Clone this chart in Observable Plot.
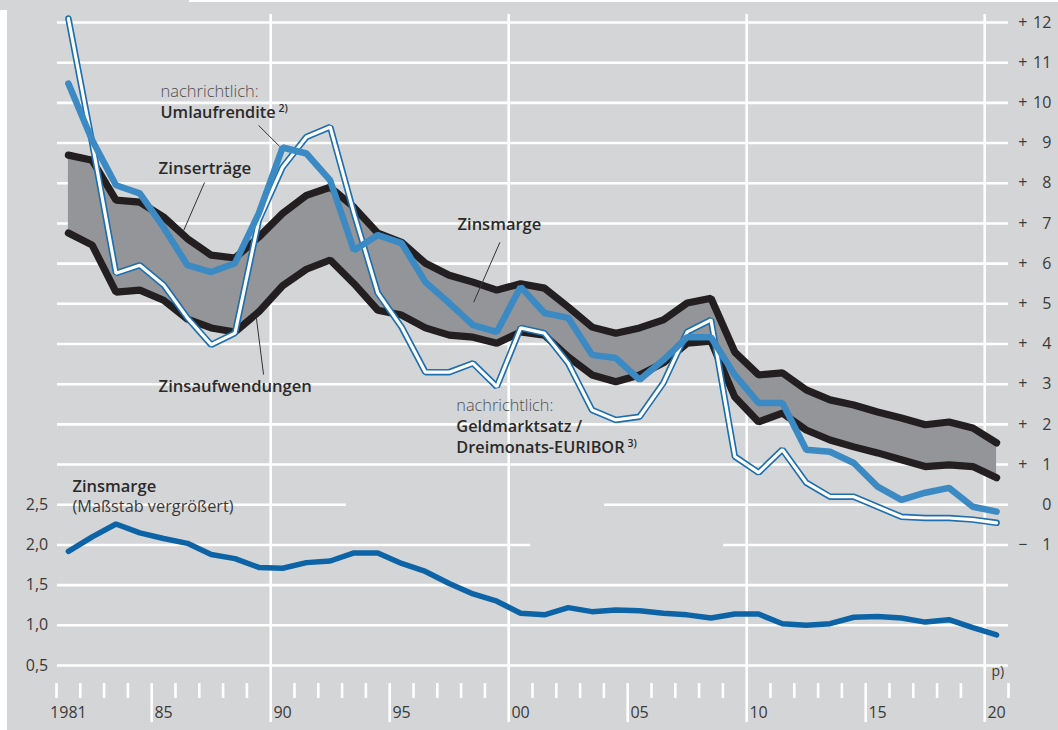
<!DOCTYPE html>
<html><head><meta charset="utf-8">
<script src="https://cdn.jsdelivr.net/npm/d3@7"></script>
<script src="https://cdn.jsdelivr.net/npm/@observablehq/plot@0.6"></script>
<style>
body{margin:0;background:#fff;}
#wrap{position:relative;width:1058px;height:730px;overflow:hidden}
#bg{position:absolute;left:7px;top:2px;right:0;bottom:0;background:#d4d5d7}
#chart{position:absolute;left:0;top:0}
</style></head><body><div id="wrap"><div id="bg"></div><div id="chart"></div></div>
<script>
// ---- data (Prozent) ----
const years = d3.range(1981, 2021);
const zinsertraege = [8.70, 8.57, 7.58, 7.53, 7.16, 6.62, 6.21, 6.14, 6.66, 7.25,
  7.70, 7.90, 7.40, 6.76, 6.53, 6.01, 5.71, 5.54, 5.34, 5.50,
  5.39, 4.92, 4.42, 4.27, 4.40, 4.60, 5.02, 5.14, 3.80, 3.23,
  3.28, 2.86, 2.61, 2.48, 2.31, 2.16, 1.99, 2.06, 1.91, 1.54];
const zinsaufwendungen = [6.76, 6.46, 5.29, 5.34, 5.09, 4.62, 4.40, 4.30, 4.80, 5.45,
  5.86, 6.09, 5.50, 4.84, 4.72, 4.40, 4.22, 4.17, 4.02, 4.30,
  4.22, 3.68, 3.23, 3.06, 3.23, 3.53, 4.02, 4.07, 2.68, 2.06,
  2.28, 1.86, 1.61, 1.44, 1.29, 1.12, 0.95, 0.99, 0.95, 0.67];
const umlaufrendite = [10.48, 9.07, 7.95, 7.75, 6.90, 5.96, 5.79, 6.01, 7.25, 8.89,
  8.74, 8.07, 6.33, 6.71, 6.51, 5.54, 5.02, 4.47, 4.30, 5.42,
  4.77, 4.65, 3.73, 3.65, 3.11, 3.60, 4.17, 4.17, 3.23, 2.53,
  2.53, 1.37, 1.32, 1.04, 0.45, 0.12, 0.30, 0.42, -0.05, -0.17];
const geldmarktsatz = [12.1, 9.00, 5.76, 5.96, 5.47, 4.65, 3.98, 4.27, 7.08, 8.40,
  9.15, 9.40, 7.25, 5.27, 4.42, 3.30, 3.30, 3.52, 2.94, 4.40,
  4.27, 3.52, 2.36, 2.11, 2.19, 3.03, 4.30, 4.60, 1.20, 0.80,
  1.37, 0.55, 0.20, 0.20, -0.05, -0.30, -0.33, -0.33, -0.37, -0.45];
const zinsmarge = [1.92, 2.10, 2.26, 2.15, 2.08, 2.02, 1.88, 1.83, 1.72, 1.71,
  1.78, 1.80, 1.90, 1.90, 1.77, 1.67, 1.52, 1.39, 1.30, 1.15,
  1.13, 1.22, 1.17, 1.19, 1.18, 1.15, 1.13, 1.09, 1.14, 1.14,
  1.02, 1.00, 1.02, 1.10, 1.11, 1.09, 1.04, 1.07, 0.97, 0.88];

// tick labels
const rightTicks = [12, 11, 10, 9, 8, 7, 6, 5, 4, 3, 2, 1, 0, -1];
const leftTicks = [2.5, 2.0, 1.5, 1.0, 0.5];
const xLabelYears = [1981, 1985, 1990, 1995, 2000, 2005, 2010, 2015, 2020];
const xLabelTexts = ["1981", "85", "90", "95", "00", "05", "10", "15", "20"];

// ---- derived tables ----
const table = years.map((year, i) => ({
  year, ert: zinsertraege[i], auf: zinsaufwendungen[i],
  uml: umlaufrendite[i], geld: geldmarktsatz[i], marge: zinsmarge[i]
}));
const toTop = (m) => (m - 2.5) * 2;   // Maßstab vergrößert: 0,5 Pp = 1 Pp
const boundaries = d3.range(1980.5, 2021, 1);
const decade = [1989.5, 1999.5, 2009.5, 2019.5];
const half = [1984.5, 1994.5, 2004.5, 2014.5];
const shortTicks = boundaries.filter(b => !decade.includes(b) && !half.includes(b));
const gridFull = [12, 11, 10, 9, 8, 7, 6, 5, 4, 3, 2, 1, -2, -3, -4];
const gridSegs = [
  {v: 0, a: 1980.54, b: 1992.68}, {v: 0, a: 2003.53, b: 2020.5},
  {v: -1, a: 1980.54, b: 2000.42}, {v: -1, a: 2008.53, b: 2020.5}
];
const xLabels = xLabelYears.map((y, i) => ({year: y, text: xLabelTexts[i]}));
const fmtR = v => v === 0 ? "0" : String(Math.abs(v));
const signR = v => v > 0 ? "+" : v < 0 ? "\u2212" : "";

const BG = "#d4d5d7";
const FONT = "Open Sans";
const ink = "#2b2a2a";

// annotations: [text, x(year), y(value), weight, size, colour, class]
const annotations = [
  ["nachrichtlich:", 1984.87, 10.28, 300, 16.5, "#4f4f4f", "lbl"],
  ["Umlaufrendite", 1984.87, 9.76, 600, 16.3, ink, "lbl-sup2"],
  ["Zinserträge", 1984.79, 8.37, 600, 16.8, ink, "lbl"],
  ["Zinsaufwendungen", 1984.79, 2.95, 600, 16.6, ink, "lbl"],
  ["Zinsmarge", 1997.35, 6.97, 600, 16.5, ink, "lbl"],
  ["nachrichtlich:", 1997.3, 2.46, 300, 16.3, "#4f4f4f", "lbl"],
  ["Geldmarktsatz /", 1997.3, 1.95, 600, 16.3, ink, "lbl"],
  ["Dreimonats-EURIBOR", 1997.3, 1.42, 600, 16.3, ink, "lbl-sup3"],
  ["Zinsmarge", 1981.17, 0.45, 600, 16.5, ink, "lbl"],
  ["(Maßstab vergrößert)", 1981.17, -0.04, 400, 16.3, "#3a3a3a", "lbl"]
];
const textMarks = annotations.map(([t, x, y, w, s, c, cls]) =>
  Plot.text([t], {x, y, text: d => d, textAnchor: "start", fontSize: s, fontWeight: w,
    fill: c, className: cls}));

const plot = Plot.plot({
  width: 1058, height: 730, margin: 0,
  style: {background: "transparent", overflow: "visible", fontFamily: FONT},
  x: {type: "linear", domain: [1980.5, 2020.5], range: [56, 1008], axis: null},
  y: {type: "linear", domain: [-4, 12], range: [665, 22], axis: null},
  marks: [
    // grid
    Plot.ruleY(gridFull, {y: d => d, x1: 1980.54, x2: 2020.5, stroke: "#fff", strokeWidth: 2.6}),
    Plot.ruleY(gridSegs, {y: "v", x1: "a", x2: "b", stroke: "#fff", strokeWidth: 2.6}),
    Plot.ruleX(decade, {x: d => d, y1: 12.2, y2: -5.42, stroke: "#fff", strokeWidth: 2.6}),
    Plot.ruleX(half, {x: d => d, y1: -4.45, y2: -5.42, stroke: "#fff", strokeWidth: 2.6}),
    Plot.ruleX(shortTicks, {x: d => d, y1: -4.45, y2: -4.82, stroke: "#fff", strokeWidth: 2.6}),

    // annotation labels (a background box is added behind each, cutting the grid)
    ...textMarks,
    Plot.text(["p)"], {x: 2020.05, y: -4.15, text: d => d, textAnchor: "middle", fontSize: 14, fill: "#3a3a3a", className: "lbl-p"}),

    // band + lines
    Plot.areaY(table, {x: "year", y1: "auf", y2: "ert", fill: "#939598"}),
    Plot.line(table, {x: "year", y: "ert", stroke: "#231f20", strokeWidth: 7.2, strokeLinejoin: "miter"}),
    Plot.line(table, {x: "year", y: "auf", stroke: "#231f20", strokeWidth: 7.2, strokeLinejoin: "miter"}),
    Plot.line(table, {x: "year", y: "geld", stroke: "#1d6fae", strokeWidth: 6.5, strokeLinejoin: "miter"}),
    Plot.line(table, {x: "year", y: "geld", stroke: "#ffffff", strokeWidth: 3.2, strokeLinejoin: "miter"}),
    Plot.line(table, {x: "year", y: "uml", stroke: "#3b8ac4", strokeWidth: 6.5, strokeLinejoin: "miter"}),
    Plot.line(table, {x: "year", y: d => toTop(d.marge), stroke: "#0c64a7", strokeWidth: 5.5, strokeLinejoin: "miter"}),

    // leader lines
    Plot.link([0], {x1: 1988.99, y1: 9.44, x2: 1989.87, y2: 8.92, stroke: "#333", strokeWidth: 1}),
    Plot.link([0], {x1: 1986.72, y1: 8.02, x2: 1985.84, y2: 6.82, stroke: "#333", strokeWidth: 1}),
    Plot.link([0], {x1: 1989.2, y1: 3.24, x2: 1988.9, y2: 4.64, stroke: "#333", strokeWidth: 1}),
    Plot.link([0], {x1: 1999.13, y1: 6.53, x2: 1998.03, y2: 5.04, stroke: "#333", strokeWidth: 1}),

    // right axis
    Plot.text(rightTicks, {x: 2021.1, y: d => d, text: signR, textAnchor: "middle", fontSize: 16, fill: "#3a3a3a"}),
    Plot.text(rightTicks, {x: 2022.3, y: d => d, text: fmtR, textAnchor: "end", fontSize: 16, fill: "#3a3a3a"}),
    // left axis (vergrößerter Maßstab)
    Plot.text(leftTicks, {x: 1980.15, y: d => toTop(d), text: d => d.toFixed(1).replace(".", ","), textAnchor: "end", fontSize: 16, fill: "#3a3a3a"}),
    // x labels
    Plot.text(xLabels, {x: "year", y: -5.17, text: "text", textAnchor: "middle", fontSize: 16, fill: "#3a3a3a"})
  ]
});

// superscript footnote markers
d3.select(plot).selectAll("g.lbl-sup2 text").append("tspan").attr("font-size", 10.5).attr("dx", 3).attr("dy", -6).text("2)");
d3.select(plot).selectAll("g.lbl-sup3 text").append("tspan").attr("font-size", 10.5).attr("dx", 3).attr("dy", -6).text("3)");

document.getElementById("chart").appendChild(plot);

// background boxes behind the labels (they interrupt the white grid like in the original)
d3.select(plot).selectAll("g.lbl text, g.lbl-sup2 text, g.lbl-sup3 text, g.lbl-p text").each(function () {
  const b = this.getBBox();
  const isP = this.parentNode.getAttribute("class").includes("lbl-p");
  const px = isP ? 3 : 8, py = isP ? 0 : 1;
  const r = document.createElementNS("http://www.w3.org/2000/svg", "rect");
  r.setAttribute("x", b.x - px);
  r.setAttribute("y", b.y + py);
  r.setAttribute("width", b.width + 2 * px);
  r.setAttribute("height", b.height - 2 * py);
  r.setAttribute("fill", BG);
  this.parentNode.insertBefore(r, this);
});
</script></body></html>
